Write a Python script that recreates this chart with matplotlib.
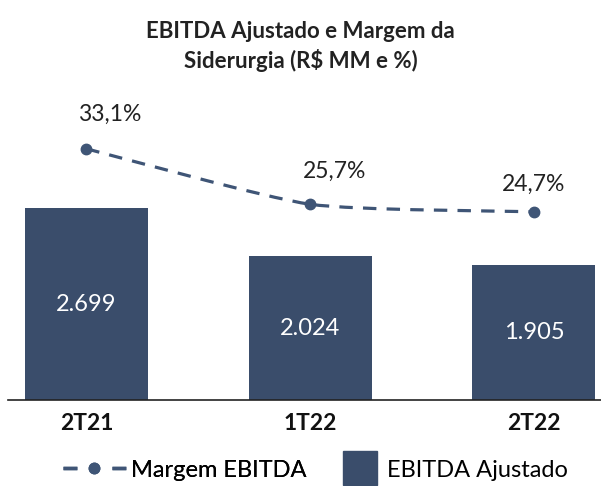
import matplotlib.pyplot as plt
import numpy as np
from matplotlib.path import Path
from matplotlib.patches import PathPatch
from matplotlib.lines import Line2D

plt.rcParams['font.family'] = ['Lato', 'DejaVu Sans']

periods = ['2T21', '1T22', '2T22']
ebitda = [2699, 2024, 1905]
ebitda_labels = ['2.699', '2.024', '1.905']
margin = [33.1, 25.7, 24.7]
margin_labels = ['33,1%', '25,7%', '24,7%']

bar_color = '#3A4D6B'
line_color = '#3F5576'

fig = plt.figure(figsize=(6.01, 4.86), dpi=100)
ax = fig.add_axes([8 / 601, 1 - 400 / 486, 593 / 601, 300 / 486])
x = np.arange(len(periods))

ax.bar(x, ebitda, width=0.55, color=bar_color, zorder=2)
for xi, v, lab in zip(x, ebitda, ebitda_labels):
    ax.text(xi, v / 2, lab, color='white', ha='center', va='center', fontsize=17)

ax.set_xlim(-0.35, 2.30)
ax.set_ylim(0, 4219)
ax.set_yticks([])
ax.set_xticks(x)
ax.set_xticklabels(periods, fontsize=16.5, fontweight='bold', color='#111111')
ax.tick_params(axis='x', length=0, pad=9)
for s in ['top', 'right', 'left']:
    ax.spines[s].set_visible(False)
ax.spines['bottom'].set_color('#222222')
ax.spines['bottom'].set_linewidth(1.2)

ax2 = ax.twinx()
ax2.set_ylim(-0.4, 39.6)
ax2.set_yticks([])
for s in ax2.spines.values():
    s.set_visible(False)

# smoothed dashed line (Bezier through the data points)
pts = np.column_stack([x, margin])
verts = [pts[0]]
codes = [Path.MOVETO]
for i in range(len(pts) - 1):
    p0 = pts[i - 1] if i > 0 else pts[i]
    p1 = pts[i]
    p2 = pts[i + 1]
    p3 = pts[i + 2] if i + 2 < len(pts) else pts[i + 1]
    c1 = p1 + (p2 - p0) / 10
    c2 = p2 - (p3 - p1) / 10
    verts += [c1, c2, p2]
    codes += [Path.CURVE4] * 3
ax2.add_patch(PathPatch(Path(verts, codes), fill=False, edgecolor=line_color,
                        lw=2.3, linestyle=(0, (4.2, 3.2)), zorder=3))
ax2.plot(x, margin, 'o', color=line_color, markersize=7.5, zorder=4)

offsets = [(23, 34), (24, 33), (0, 27)]
for xi, v, lab, off in zip(x, margin, margin_labels, offsets):
    ax2.annotate(lab, (xi, v), xytext=off, textcoords='offset pixels',
                 ha='center', va='center', fontsize=16.5, color='#222222')

fig.text(0.5, 1 - 31 / 486, 'EBITDA Ajustado e Margem da', ha='center', va='center',
         fontsize=16, fontweight='bold', color='#222222')
fig.text(0.5, 1 - 60 / 486, 'Siderurgia (R$ MM e %)', ha='center', va='center',
         fontsize=16, fontweight='bold', color='#222222')

# legend: two pieces so each handle gets its own width
h_line = Line2D([0], [0], color=line_color, lw=2.5, linestyle=(0, (4.0, 10.1)),
                marker='o', markersize=7.5)
h_bar = Line2D([0], [0], color=bar_color, marker='s', markersize=24, linestyle='none')
leg1 = fig.legend([h_line], ['Margem EBITDA'], loc='center left',
                  bbox_to_anchor=(63 / 601, 1 - 470 / 486), frameon=False, fontsize=17,
                  borderpad=0, borderaxespad=0, handlelength=2.65, handletextpad=0.25)
fig.legend([h_bar], ['EBITDA Ajustado'], loc='center left',
           bbox_to_anchor=(342 / 601, 1 - 470 / 486), frameon=False, fontsize=17,
           borderpad=0, borderaxespad=0, handlelength=1.5, handletextpad=0.4)
fig.add_artist(leg1)

fig.savefig('out.png', dpi=100)
